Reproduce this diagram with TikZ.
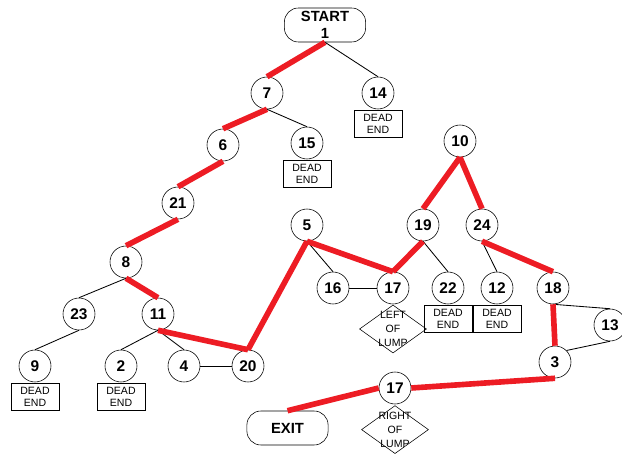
\documentclass[tikz,border=0pt]{standalone}
\usepackage{fontspec}
\setmainfont{Liberation Sans}
\usepackage{tikz}
\usetikzlibrary{shapes.geometric}
\definecolor{routered}{RGB}{237,28,36}
\tikzstyle{terminal} = [rectangle, rounded corners=0.35cm, minimum width=2.03cm, minimum height=0.85cm, inner sep=0pt, align=center, draw=black, font=\bfseries\fontsize{10.5}{12}\selectfont]
\tikzstyle{junction} = [circle, minimum size=0.8cm, inner sep=0pt, text centered, draw=black, font=\bfseries\fontsize{11}{12}\selectfont]
\tikzstyle{deadend} = [rectangle, minimum width=1.2cm, minimum height=0.675cm, inner sep=0pt, align=center, draw=black, font=\fontsize{7.5}{9}\selectfont]
\tikzstyle{lump} = [diamond, minimum width=1.675cm, minimum height=1.2cm, inner sep=0pt, draw=black]
\tikzstyle{lumptext} = [align=center, font=\fontsize{7.5}{10}\selectfont]
\tikzstyle{route} = [line width=4pt, routered]
\tikzstyle{corridor} = [semithick, black]

\begin{document}
\begin{tikzpicture}[node distance=1.3cm]
    \useasboundingbox (0,0) rectangle (15.55,-11.35);
    \node (start) [terminal] at (8.125,-0.625) {START\\1};
    \node (n7) [junction, below of=start, xshift=-1.45cm, yshift=-0.4cm] {7};
    \node (n14) [junction, right of=n7, xshift=1.475cm] {14};
    \node (d14) [deadend, below of=n14, yshift=0.525cm] {DEAD\\END};
    \node (n6) [junction, below of=n7, xshift=-1.1cm] {6};
    \node (n15) [junction, right of=n6, xshift=0.8cm, yshift=0.05cm] {15};
    \node (d15) [deadend, below of=n15, yshift=0.525cm] {DEAD\\END};
    \node (n21) [junction, below of=n6, xshift=-1.125cm, yshift=-0.15cm] {21};
    \node (n8) [junction, below of=n21, xshift=-1.3cm, yshift=-0.175cm] {8};
    \node (n23) [junction, below of=n8, xshift=-1.175cm] {23};
    \node (n11) [junction, right of=n23, xshift=0.675cm] {11};
    \node (n9) [junction, below of=n23, xshift=-1.1cm] {9};
    \node (d9) [deadend, below of=n9, yshift=0.525cm] {DEAD\\END};
    \node (n2) [junction, below of=n11, xshift=-0.925cm] {2};
    \node (d2) [deadend, below of=n2, yshift=0.525cm] {DEAD\\END};
    \node (n4) [junction, below of=n11, xshift=0.65cm] {4};
    \node (n20) [junction, right of=n4, xshift=0.3cm] {20};
    \node (n5) [junction, right of=n21, xshift=1.925cm, yshift=-0.55cm] {5};
    \node (n16) [junction, below of=n5, xshift=0.65cm, yshift=-0.275cm] {16};
    \node (n17) [junction, right of=n16, xshift=0.2cm] {17};
    \node (lump1) [lump, below of=n17, yshift=0.275cm, label={[lumptext]center:LEFT\\OF\\LUMP}] {};
    \node (n19) [junction, right of=n5, xshift=1.6cm] {19};
    \node (n24) [junction, right of=n19, xshift=0.175cm] {24};
    \node (n10) [junction, above of=n19, xshift=0.925cm, yshift=0.8cm] {10};
    \node (n22) [junction, below of=n19, xshift=0.625cm, yshift=-0.275cm] {22};
    \node (d22) [deadend, below of=n22, yshift=0.525cm] {DEAD\\END};
    \node (n12) [junction, below of=n24, xshift=0.375cm, yshift=-0.275cm] {12};
    \node (d12) [deadend, below of=n12, yshift=0.525cm] {DEAD\\END};
    \node (n18) [junction, right of=n12, xshift=0.1cm] {18};
    \node (n13) [junction, right of=n18, xshift=0.125cm, yshift=-0.925cm] {13};
    \node (n3) [junction, below of=n18, xshift=0.05cm, yshift=-0.55cm] {3};
    \node (n17b) [junction, below of=n17, xshift=0.05cm, yshift=-1.2cm] {17};
    \node (lump2) [lump, below of=n17b, yshift=0.26cm, label={[lumptext]center:RIGHT\\OF\\LUMP}] {};
    \node (exit) [terminal, left of=n17b, xshift=-1.3875cm, yshift=-1cm] {EXIT};
    % dead ends and side passages
    \draw [corridor] (start.south) -- (n14.north);
    \draw [corridor] (n7.south) -- (n15.north);
    \draw [corridor] (n8.south) -- (n23.north);
    \draw [corridor] (n23.south) -- (n9.north);
    \draw [corridor] (n11.south) -- (n2.north);
    \draw [corridor] (n11.south) -- (n4.north);
    \draw [corridor] (n4.east) -- (n20.west);
    \draw [corridor] (n5.south) -- (n16.north);
    \draw [corridor] (n16.east) -- (n17.west);
    \draw [corridor] (n19.south) -- (n22.north);
    \draw [corridor] (n24.south) -- (n12.north);
    \draw [corridor] (n18.south) -- (n13.north);
    \draw [corridor] (n13.south) -- (n3.north east);
    % way out
    \draw [route] (start.south) -- (n7.north);
    \draw [route] (n7.south) -- (n6.north);
    \draw [route] (n6.south) -- (n21.north);
    \draw [route] (n21.south) -- (n8.north);
    \draw [route] (n8.south) -- (n11.north);
    \draw [route] (n11.south) -- (n20.north);
    \draw [route] (n20.north) -- (n5.south);
    \draw [route] (n5.south) -- (n17.north);
    \draw [route] (n17.north) -- (n19.south);
    \draw [route] (n19.north) -- (n10.south);
    \draw [route] (n10.south) -- (n24.north);
    \draw [route] (n24.south) -- (n18.north);
    \draw [route] (n18.south) -- (n3.north);
    \draw [route] (n3.south) -- (n17b.east);
    \draw [route] (n17b.west) -- (exit.north);
\end{tikzpicture}
\end{document}
